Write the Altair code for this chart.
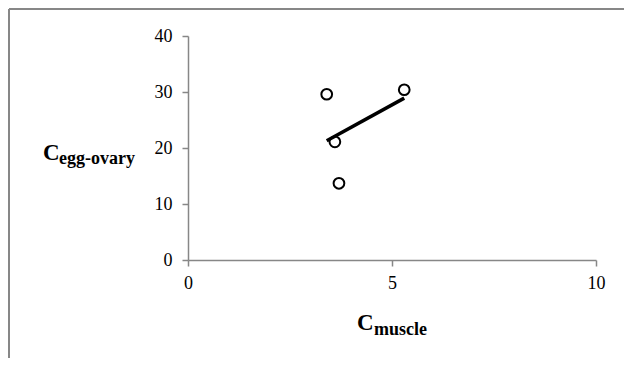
import altair as alt
import pandas as pd

# Data
c_muscle = [3.4, 5.3, 3.6, 3.7]
c_egg_ovary = [29.6, 30.4, 21.1, 13.7]

x_ticks = [0, 5, 10]
y_ticks = [0, 10, 20, 30, 40]

df = pd.DataFrame({"x": c_muscle, "y": c_egg_ovary})
one = pd.DataFrame({"d": [0]})

FONT = "Liberation Serif"
GRAY = "#878787"

axis_common = dict(grid=False, domainColor=GRAY, tickColor=GRAY, domainWidth=1.5,
                   tickWidth=1.5, tickSize=6, labelFont=FONT, labelFontSize=18,
                   labelColor="black", labelFlush=False, labelOverlap=False)

x_axis = alt.Axis(values=x_ticks, labelPadding=8, title=None, **axis_common)
y_axis = alt.Axis(values=y_ticks, labelPadding=10, title=None, **axis_common)

x_enc = alt.X("x:Q", scale=alt.Scale(domain=[0, 10], nice=False, zero=False), axis=x_axis)
y_enc = alt.Y("y:Q", scale=alt.Scale(domain=[0, 40], nice=False), axis=y_axis)

points = alt.Chart(df).mark_point(shape="circle", filled=False, color="black",
                                  size=115, strokeWidth=2, opacity=1).encode(x=x_enc, y=y_enc)

trend = alt.Chart(df).transform_regression("x", "y").mark_line(
    color="black", strokeWidth=3.5).encode(x=x_enc, y=y_enc)

def txt(s, x, y, size):
    return alt.Chart(one).mark_text(text=s, font=FONT, fontWeight="bold", fontSize=size,
                                    align="left", baseline="alphabetic", color="black"
                                    ).encode(x=alt.value(x), y=alt.value(y))

titles = (txt("C", -145, 124, 23) + txt("egg-ovary", -129, 128, 18) +
          txt("C", 169, 294, 23) + txt("muscle", 186, 299, 18))

frame_top = alt.Chart(one).mark_rule(color=GRAY, strokeWidth=2).encode(
    x=alt.value(-179), x2=alt.value(450), y=alt.value(-27))
frame_left = alt.Chart(one).mark_rule(color=GRAY, strokeWidth=2).encode(
    x=alt.value(-179), y=alt.value(-27), y2=alt.value(330))

chart = alt.layer(frame_top, frame_left, trend, points, titles).properties(
    width=408, height=224,
    autosize=alt.AutoSizeParams(type="none"),
    padding={"left": 180, "top": 28, "right": 28, "bottom": 98},
).configure_view(stroke=None).configure_axis(**axis_common)

chart.save("out.html", embed_options={"renderer": "svg", "actions": False})
